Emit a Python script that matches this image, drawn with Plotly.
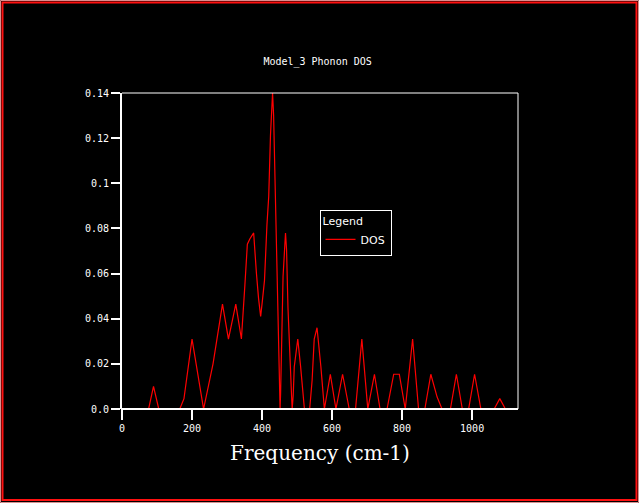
import plotly.graph_objects as go

# frequency (cm-1) and DOS
freq = [0, 76, 90, 105, 165, 177, 200, 233, 260, 287, 304, 325, 341, 346, 351,
        358, 365, 376, 379, 384, 390, 396, 401, 407, 414, 419, 424, 428, 430,
        433, 436, 439, 441, 445, 447, 450, 451.5, 453, 456, 460, 467, 470, 474,
        479, 484, 486, 489, 492, 502, 510, 521, 536, 543, 549, 557, 568, 578,
        595, 611, 630, 649, 667, 685, 702, 721, 737, 757, 776, 792, 809, 830,
        847, 865, 882, 900, 914, 938, 955, 972, 990, 1007, 1025, 1063, 1079,
        1095, 1120]
dos = [0, 0, 0.010, 0, 0, 0.0046, 0.031, 0, 0.02, 0.0465, 0.031, 0.0465, 0.031,
       0.041, 0.055, 0.073, 0.0753, 0.078, 0.070, 0.060, 0.049, 0.041, 0.048,
       0.057, 0.0816, 0.094, 0.121, 0.133, 0.140, 0.130, 0.1076, 0.090, 0.0705,
       0.0498, 0.0298, 0.0113, 0, 0.007, 0.032, 0.0587, 0.078, 0.0705, 0.045,
       0.0216, 0.007, 0, 0.006, 0.0187, 0.031, 0.019, 0, 0, 0.0127, 0.031,
       0.036, 0.0187, 0, 0.0154, 0, 0.0154, 0, 0, 0.031, 0, 0.0154, 0, 0,
       0.0154, 0.0154, 0, 0.031, 0, 0, 0.0154, 0.0053, 0, 0, 0.0154, 0, 0,
       0.0154, 0, 0, 0.0046, 0, 0]

x_ticks = [0, 200, 400, 600, 800, 1000]
y_ticks = [0, 0.02, 0.04, 0.06, 0.08, 0.1, 0.12, 0.14]
y_ticktext = ["0.0", "0.02", "0.04", "0.06", "0.08", "0.1", "0.12", "0.14"]

W, H = 639, 503
ML, MR, MT, MB = 122, 121, 93, 94
PW, PH = W - ML - MR, H - MT - MB


def px(p):
    return (p - ML) / PW


def py(p):
    return (H - MB - p) / PH


mono = "DejaVu Sans Mono"

fig = go.Figure()
fig.add_trace(go.Scatter(
    x=freq, y=dos,
    mode='lines',
    line=dict(width=1.2, color='#ff0000'),
    name='DOS'
))

shapes = [
    # window frame
    dict(type='rect', xref='paper', yref='paper', x0=px(0.5), x1=px(638.5),
         y0=py(0.5), y1=py(502.5), line=dict(color='#d89090', width=1)),
    dict(type='rect', xref='paper', yref='paper', x0=px(2.5), x1=px(636.5),
         y0=py(2.5), y1=py(500), line=dict(color='#ff1010', width=2)),
    # plot box: bottom edge drawn over the trace so zero runs are hidden
    dict(type='line', xref='paper', yref='paper', x0=px(ML - 1), x1=1,
         y0=0, y1=0, layer='above', line=dict(color='white', width=2)),
    dict(type='line', xref='paper', yref='paper', x0=0, x1=1, y0=1, y1=1,
         line=dict(color='white', width=1)),
    dict(type='line', xref='paper', yref='paper', x0=1, x1=1, y0=0, y1=1,
         line=dict(color='white', width=1)),
]

fig.update_layout(
    width=W, height=H,
    margin=dict(l=ML, r=MR, t=MT, b=MB),
    paper_bgcolor='black', plot_bgcolor='black',
    font=dict(family=mono, size=10, color='white'),
    title=dict(text='Model_3 Phonon DOS', x=0.497, y=1 - 61 / H,
               xanchor='center', yanchor='middle',
               font=dict(family=mono, size=10, color='white')),
    xaxis=dict(range=[0, 1131], tickvals=x_ticks, showgrid=False,
               zeroline=False, showline=False,
               ticks='outside', ticklen=10, tickwidth=2, tickcolor='white',
               tickfont=dict(family=mono, size=10, color='white'),
               title=dict(text='Frequency (cm-1)', standoff=12,
                          font=dict(family='DejaVu Serif', size=20,
                                    color='white'))),
    yaxis=dict(range=[0, 0.14], tickvals=y_ticks, ticktext=y_ticktext,
               showgrid=False, zeroline=False, showline=True,
               linecolor='white', linewidth=2,
               ticks='outside', ticklen=9, tickwidth=2, tickcolor='white',
               tickfont=dict(family=mono, size=10, color='white')),
    showlegend=True,
    legend=dict(x=px(319.5), y=py(209.5), xanchor='left', yanchor='top',
                bgcolor='black', bordercolor='white', borderwidth=1,
                itemwidth=30,
                title=dict(text='Legend', font=dict(family='DejaVu Sans',
                                                    size=11, color='white')),
                font=dict(family='DejaVu Sans', size=11, color='white')),
    shapes=shapes,
)

fig.write_html("out.html", config={'displayModeBar': False},
               post_script="document.body.style.margin='0';")
